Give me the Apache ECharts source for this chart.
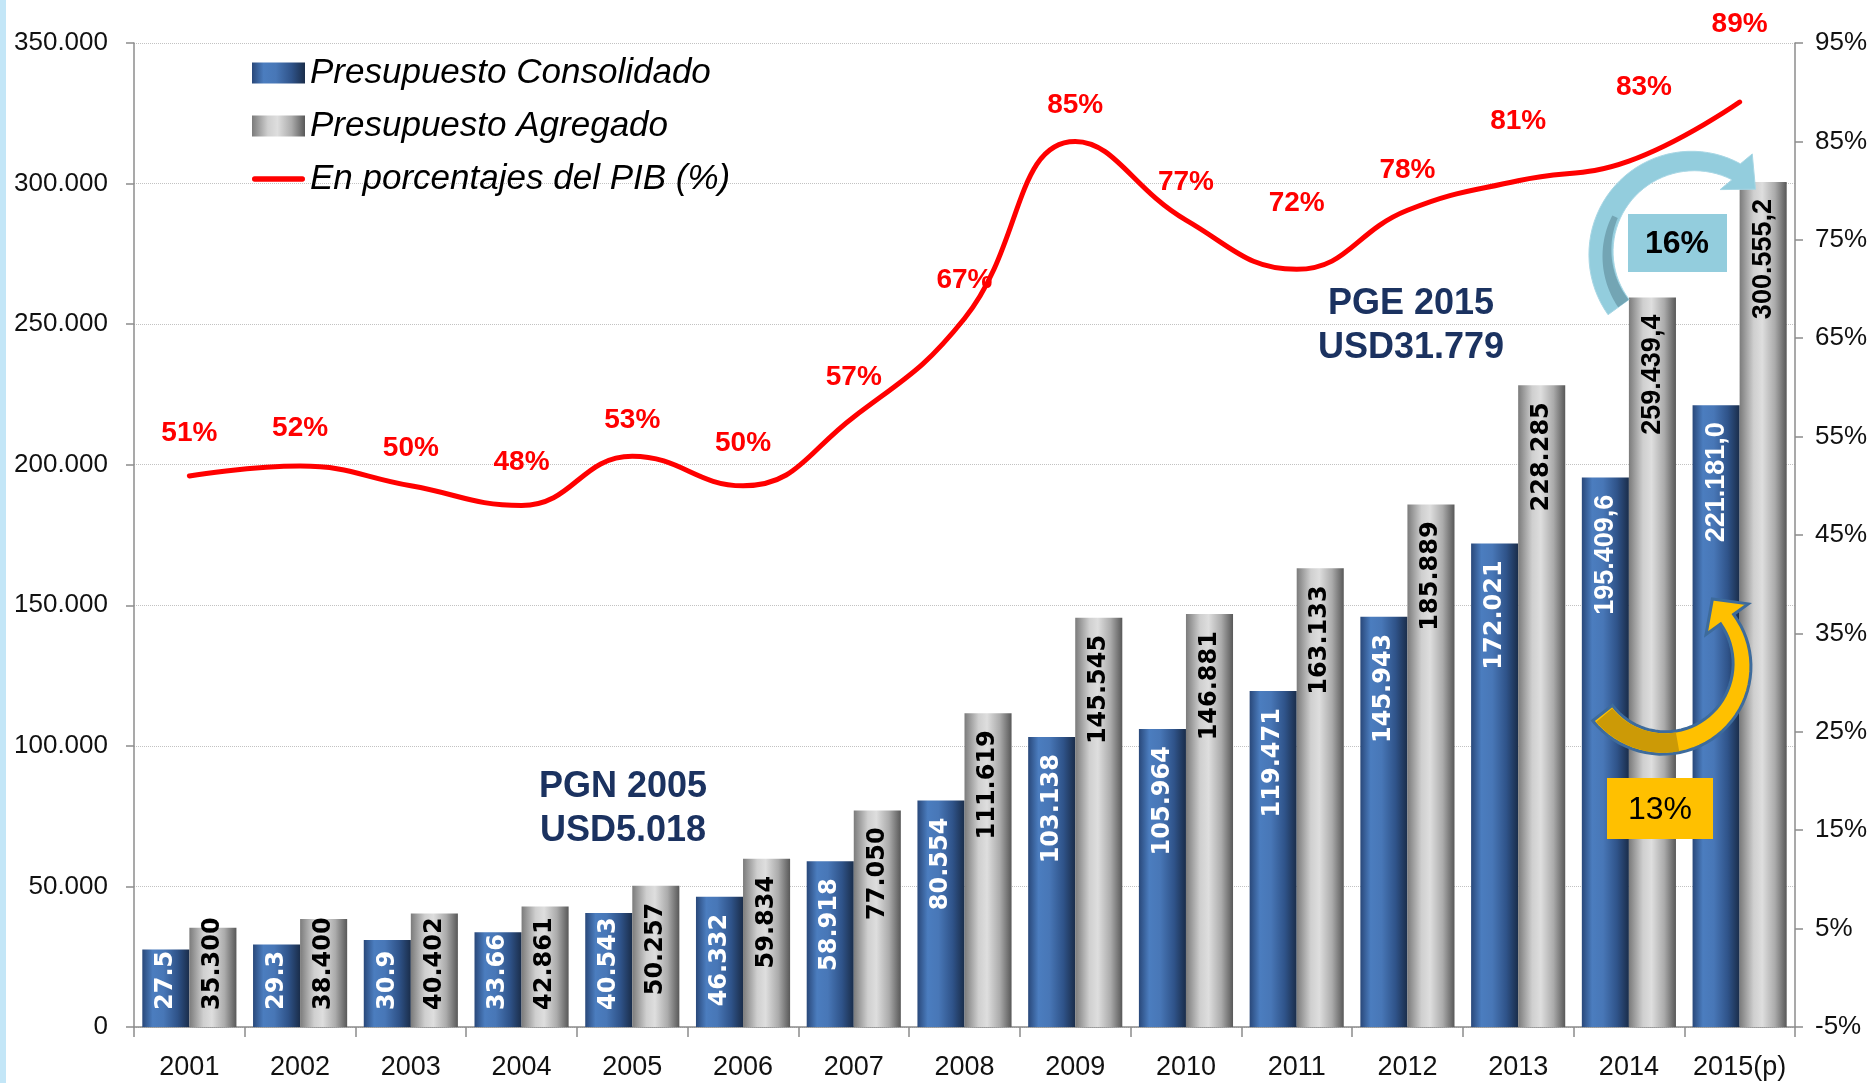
<!DOCTYPE html>
<html>
<head>
<meta charset="utf-8">
<script src="https://cdn.jsdelivr.net/npm/echarts@6/dist/echarts.min.js"></script>
<style>
html,body{margin:0;padding:0;background:#fff;}
#grafico{width:1870px;height:1083px;}
</style>
</head>
<body>
<div id="grafico"></div>
<script>
// datos
var anios = ['2001','2002','2003','2004','2005','2006','2007','2008','2009','2010','2011','2012','2013','2014','2015(p)'];
var consolidado = [27540, 29350, 30925, 33665, 40543, 46332, 58918, 80554, 103138, 105964, 119471, 145943, 172021, 195409.6, 221181.0];
var agregado = [35300, 38400, 40402, 42861, 50257, 59834, 77050, 111619, 145545, 146881, 163133, 185889, 228285, 259439.4, 300555.2];
var pib = [51, 52, 50, 48, 53, 50, 57, 67, 85, 77, 72, 78, 81, 83, 89];
// decimales que se muestran en cada anio
var decimales = [0,0,0,0,0,0,0,0,0,0,0,0,0,1,1];
var nombres = ['Presupuesto Consolidado', 'Presupuesto Agregado', 'En porcentajes del PIB (%)'];

// separacion de las etiquetas del % sobre la linea
var pibDist = [28, 23, 23, 28, 21, 28, 25, 23, 21, 23, 51, 25, 44, 59, 63];
var pibDx   = [0, 0, 0, 0, 0, 0, 0, 0, 0, 0, 0, 0, 0, 15, 0];

var fuente = '"Liberation Sans", Arial, sans-serif';

// formato 1.234,5
function fmt(v, dec) {
    var s = v.toFixed(dec).split('.');
    var ent = s[0].replace(/\B(?=(\d{3})+(?!\d))/g, '.');
    return dec ? ent + ',' + s[1] : ent;
}

var ctx = document.createElement('canvas').getContext('2d');
function medir(txt, font) {
    ctx.font = font;
    return ctx.measureText(txt).width;
}

var azul = {type:'linear', x:0, y:0, x2:1, y2:0, colorStops:[
    {offset:0, color:'#29487a'}, {offset:0.22, color:'#4b7dbf'}, {offset:0.45, color:'#4877b7'},
    {offset:0.75, color:'#2f5389'}, {offset:1, color:'#1a2d4a'}]};
var gris = {type:'linear', x:0, y:0, x2:1, y2:0, colorStops:[
    {offset:0, color:'#7b7b7b'}, {offset:0.3, color:'#cfcfcf'}, {offset:0.48, color:'#dedede'},
    {offset:0.75, color:'#ababab'}, {offset:1, color:'#585858'}]};

// flecha curva (adorno), puntos de un poligono
function arco(cx, cy, r, a0, a1, w0, w1) {
    var ext = [], inn = [];
    for (var k = 0; k <= 40; k++) {
        var t = k / 40, a = (a0 + (a1 - a0) * t) * Math.PI / 180, w = w0 + (w1 - w0) * t;
        ext.push([cx + (r + w / 2) * Math.cos(a), cy + (r + w / 2) * Math.sin(a)]);
        inn.push([cx + (r - w / 2) * Math.cos(a), cy + (r - w / 2) * Math.sin(a)]);
    }
    return {ext: ext, inn: inn};
}
function flechaCurva(cx, cy, r, a0, a1, w0, w1, ancho, largo, giro) {
    var b = arco(cx, cy, r, a0, a1, w0, w1);
    var s = a1 > a0 ? 1 : -1;
    var a = a1 * Math.PI / 180;
    var bx = cx + r * Math.cos(a), by = cy + r * Math.sin(a);
    var dang = Math.atan2(Math.cos(a) * s, -Math.sin(a) * s) + giro * Math.PI / 180;
    var dx = Math.cos(dang), dy = Math.sin(dang);
    var px = dy * s, py = -dx * s; // hacia afuera
    var punta = [[bx + px * ancho / 2, by + py * ancho / 2], [bx + dx * largo, by + dy * largo], [bx - px * ancho / 2, by - py * ancho / 2]];
    return b.ext.concat(punta, b.inn.reverse());
}
function cuerpo(cx, cy, r, a0, a1, w0, w1) {
    var b = arco(cx, cy, r, a0, a1, w0, w1);
    return b.ext.concat(b.inn.reverse());
}

var chart = echarts.init(document.getElementById('grafico'));

var option = {
    animation: false,
    backgroundColor: '#fff',
    grid: {left: 134, right: 75, top: 43, bottom: 56, outerBoundsMode: 'none'},
    legend: {
        orient: 'vertical', left: 247, top: 50,
        itemWidth: 53, itemHeight: 21, itemGap: 17,
        textStyle: {fontFamily: fuente, fontSize: 35, fontStyle: 'italic', color: '#000', lineHeight: 36},
        data: [
            {name: nombres[0], icon: 'rect'},
            {name: nombres[1], icon: 'rect'},
            {name: nombres[2], icon: 'path://M5,0H95A5,5 0 0 1 95,10H5A5,5 0 0 1 5,0Z'}
        ]
    },
    xAxis: {
        type: 'category', data: anios,
        axisLine: {lineStyle: {color: '#8c8c8c', width: 1.5}},
        axisTick: {show: true, length: 10, lineStyle: {color: '#8c8c8c', width: 1.5}},
        axisLabel: {fontFamily: fuente, fontSize: 27, color: '#111', margin: 27, interval: 0}
    },
    yAxis: [
        {
            type: 'value', min: 0, max: 350000, interval: 50000,
            axisLine: {show: true, lineStyle: {color: '#8c8c8c', width: 1.5}},
            axisTick: {show: true, length: 8, lineStyle: {color: '#8c8c8c', width: 1.5}},
            splitLine: {show: true, lineStyle: {type: 'dotted', color: '#c2c2c2', width: 1}},
            axisLabel: {fontFamily: fuente, fontSize: 26, color: '#111', margin: 26,
                formatter: function (v) { return fmt(v, 0); }}
        },
        {
            type: 'value', min: -5, max: 95, interval: 10, position: 'right',
            axisLine: {show: true, lineStyle: {color: '#8c8c8c', width: 1.5}},
            axisTick: {show: true, length: 8, lineStyle: {color: '#8c8c8c', width: 1.5}},
            splitLine: {show: false},
            axisLabel: {fontFamily: fuente, fontSize: 26, color: '#111', margin: 20, formatter: '{value}%'}
        }
    ],
    series: [
        {
            name: nombres[0], type: 'bar', data: consolidado,
            barWidth: '42.5%', barGap: '0%',
            itemStyle: {color: azul},
            label: {show: true, rotate: 90, verticalAlign: 'middle', color: '#fff'}
        },
        {
            name: nombres[1], type: 'bar', data: agregado,
            barWidth: '42.5%', barGap: '0%',
            itemStyle: {color: gris},
            label: {show: true, rotate: 90, verticalAlign: 'middle', color: '#000'}
        },
        {
            name: nombres[2], type: 'line', yAxisIndex: 1, z: 5,
            data: pib.map(function (v, i) {
                return {value: v, label: {distance: pibDist[i], offset: [pibDx[i], 0]}};
            }),
            smooth: 0.45, symbol: 'circle', symbolSize: 2,
            lineStyle: {color: '#ff0000', width: 5, cap: 'round'},
            itemStyle: {color: '#ff0000'},
            label: {show: true, position: 'top', formatter: '{c}%', color: '#ff0000',
                fontFamily: fuente, fontSize: 28, fontWeight: 'bold'}
        }
    ],
    graphic: [
        {type: 'rect', z: 0, shape: {x: 0, y: 0, width: 6, height: 1083}, style: {fill: '#c3e6f7'}},
        {type: 'text', z: 100, x: 623, y: 809, style: {text: 'PGN 2005\nUSD5.018', fill: '#1b3260',
            fontFamily: fuente, fontSize: 36, fontWeight: 'bold', align: 'center', verticalAlign: 'middle', lineHeight: 44}},
        {type: 'text', z: 100, x: 1411, y: 326, style: {text: 'PGE 2015\nUSD31.779', fill: '#1b3260',
            fontFamily: fuente, fontSize: 36, fontWeight: 'bold', align: 'center', verticalAlign: 'middle', lineHeight: 44}},
        // flecha azul
        {type: 'polygon', z: 100, shape: {points: flechaCurva(1693, 253, 92, 144, 298, 26, 18, 48, 26, 14)},
            style: {fill: '#93cddd', stroke: '#a8d7e5', lineWidth: 1}},
        {type: 'polygon', z: 101, shape: {points: cuerpo(1693, 253, 86, 144, 205, 13, 6)},
            style: {fill: '#73a5b4'}},
        {type: 'rect', z: 100, shape: {x: 1628, y: 214, width: 99, height: 58}, style: {fill: '#93cddd'}},
        {type: 'text', z: 102, x: 1677, y: 244, style: {text: '16%', fill: '#000', fontFamily: fuente,
            fontSize: 32, fontWeight: 'bold', align: 'center', verticalAlign: 'middle'}},
        // flecha dorada
        {type: 'polygon', z: 100, shape: {points: flechaCurva(1664, 665, 78, 142, -36, 25, 16, 52, 25, 0)},
            style: {fill: '#ffc000', stroke: '#3d6b9c', lineWidth: 3}},
        {type: 'polygon', z: 101, shape: {points: cuerpo(1664, 665, 78, 140, 80, 21, 19)},
            style: {fill: '#cc9a06'}},
        {type: 'rect', z: 100, shape: {x: 1607, y: 778, width: 106, height: 61}, style: {fill: '#ffc000'}},
        {type: 'text', z: 102, x: 1660, y: 810, style: {text: '13%', fill: '#000', fontFamily: fuente,
            fontSize: 32, align: 'center', verticalAlign: 'middle'}}
    ]
};

chart.setOption(option);

// etiquetas dentro de las barras: arriba si caben, si no desde la base
function etiquetasBarras(valores, recortar) {
    var base = chart.convertToPixel({yAxisIndex: 0}, 0);
    return valores.map(function (v, i) {
        var dec = decimales[i];
        var txt = fmt(v, dec);
        var lab = dec
            ? {fontFamily: fuente, fontSize: 27, fontWeight: 'bold'}
            : {fontFamily: '"DejaVu Sans", Verdana, sans-serif', fontSize: 24, fontWeight: 'bold'};
        var ancho = medir(txt, 'bold ' + lab.fontSize + 'px ' + lab.fontFamily);
        var alto = base - chart.convertToPixel({yAxisIndex: 0}, v);
        var pad = 17;
        lab.formatter = txt;
        lab.distance = pad;
        if (ancho + 2 * pad <= alto) {
            lab.position = 'insideTop';
            lab.align = 'right';
        } else {
            lab.position = 'insideBottom';
            lab.align = 'left';
            // el texto se corta en el borde superior de la barra
            if (recortar && ancho + pad > alto) {
                lab.width = alto - pad + 8;
                lab.overflow = 'truncate';
                lab.ellipsis = '';
            }
        }
        return {value: v, label: lab};
    });
}

chart.setOption({
    series: [
        {data: etiquetasBarras(consolidado, true)},
        {data: etiquetasBarras(agregado, false)}
    ]
});
</script>
</body>
</html>
